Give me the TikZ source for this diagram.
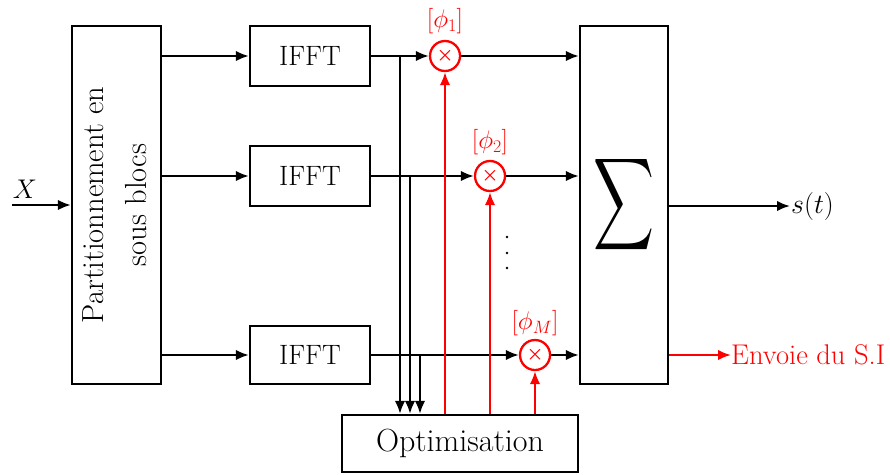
\RequirePackage{fix-cm}
\documentclass[tikz,border=0pt]{standalone}
\usetikzlibrary{arrows.meta}
\usepackage{graphicx}
\usepackage{amsmath}
\begin{document}
\begin{tikzpicture}[x=1pt,y=-1pt,
  box/.style={draw,line width=2.3pt,inner sep=0pt,font=\fontsize{28}{33}\selectfont},
  mult/.style={draw=red,circle,line width=2.3pt,minimum size=30pt,inner sep=0pt,text=red,font=\fontsize{19}{19}\selectfont},
  arr/.style={line width=2.3pt,-{Latex[length=13pt,width=10.5pt]}},
  rarr/.style={arr,draw=red},
  lab/.style={text=red,font=\fontsize{25.5}{30}\selectfont,inner sep=0pt},
  txt/.style={font=\fontsize{28}{32}\selectfont,inner sep=1pt}]
\useasboundingbox (0,0) rectangle (890,474);
% blocks
\node[box,minimum width=89pt,minimum height=358pt,font=\fontsize{30.5}{43}\selectfont] (part) at (116.5,205)
  {\rotatebox{90}{\begin{tabular}{@{}c@{}}Partitionnement en\\sous blocs\end{tabular}}};
\node[box,minimum width=120pt,minimum height=60pt] (f1) at (310,56) {IFFT};
\node[box,minimum width=120pt,minimum height=60pt] (f2) at (310,176) {IFFT};
\node[box,minimum width=120pt,minimum height=58pt] (f3) at (310,355) {IFFT};
\node[box,minimum width=88pt,minimum height=358pt] (sum) at (624,205)
  {\resizebox*{61pt}{103pt}{$\displaystyle\sum$}};
\node[box,minimum width=236pt,minimum height=57pt,font=\fontsize{32}{37}\selectfont] (opt) at (460,443.5) {Optimisation};
% multipliers
\node[mult] (m1) at (445,56) {$\boldsymbol{\times}$};
\node[mult] (m2) at (490,176) {$\boldsymbol{\times}$};
\node[mult] (m3) at (535,355) {$\boldsymbol{\times}$};
\node[lab] (l1) at (445,21) {$[\phi_1]$};
\node[lab] (l2) at (490,142) {$[\phi_2]$};
\node[lab] (l3) at (535,323) {$[\phi_M]$};
% input
\coordinate (xin) at (12,205);
\draw[arr] (xin) -- (part.west);
\node[txt,font=\fontsize{27}{30}\selectfont] (xl) at (25,189) {$X$};
% partition to IFFT
\draw[arr] (part.east |- f1.west) -- (f1.west);
\draw[arr] (part.east |- f2.west) -- (f2.west);
\draw[arr] (part.east |- f3.west) -- (f3.west);
% IFFT to multipliers to sum
\draw[arr] (f1.east) -- (m1.west);
\draw[arr] (f2.east) -- (m2.west);
\draw[arr] (f3.east) -- (m3.west);
\draw[arr] (m1.east) -- (sum.west |- m1.east);
\draw[arr] (m2.east) -- (sum.west |- m2.east);
\draw[arr] (m3.east) -- (sum.west |- m3.east);
% taps to optimisation
\coordinate (b1) at (400,56);
\coordinate (b2) at (410,176);
\coordinate (b3) at (420,355);
\draw[arr] (b1) -- (b1 |- opt.north);
\draw[arr] (b2) -- (b2 |- opt.north);
\draw[arr] (b3) -- (b3 |- opt.north);
% optimisation to multipliers
\draw[rarr] (opt.north -| m1.south) -- (m1.south);
\draw[rarr] (opt.north -| m2.south) -- (m2.south);
\draw[rarr] (opt.north -| m3.south) -- (m3.south);
% dots
\fill (507,237) circle (1.3);
\fill (507,253) circle (1.3);
\fill (507,268) circle (1.3);
% outputs
\coordinate (st) at (790,206);
\draw[arr] (sum.east |- st) -- (st);
\node[txt,anchor=west] (stl) at (st) {$s(t)$};
\coordinate (si) at (731,355);
\draw[rarr] (sum.east |- si) -- (si);
\node[txt,anchor=west,text=red,inner sep=0pt,font=\fontsize{28.5}{32}\selectfont] (sil) at (si) {Envoie du S.I};
\end{tikzpicture}
\end{document}
